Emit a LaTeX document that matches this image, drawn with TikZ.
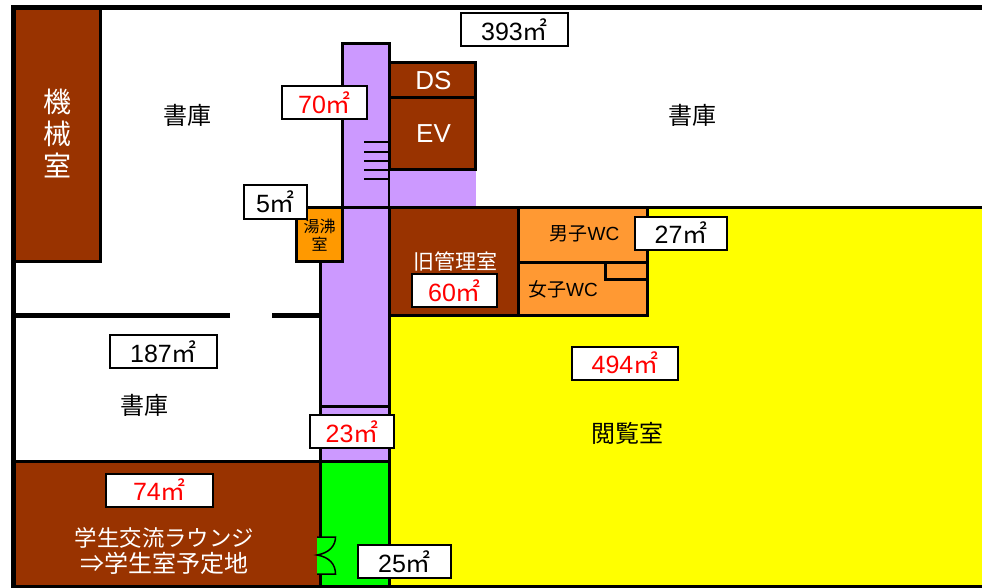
\documentclass[tikz,border=0pt]{standalone}
\usepackage{fontspec}
\setmainfont{Liberation Sans}
\newfontfamily\cjk{Noto Sans CJK JP}
\usepackage{xcolor}
\usetikzlibrary{
    positioning,
}
\definecolor{roombrown}{HTML}{993300}
\definecolor{roomorange}{HTML}{FF9900}
\definecolor{wcorange}{HTML}{FF9933}
\definecolor{hallpurple}{HTML}{CC99FF}
\definecolor{readyellow}{HTML}{FFFF00}
\definecolor{entrygreen}{HTML}{00FF00}
\newcommand{\sqm}{{\cjk ㎡}}
\newcommand{\fsize}[1]{\fontsize{#1}{#1}\selectfont}

\begin{document}
\begin{tikzpicture}[
        x=1pt, y=-1pt,
        wall/.style={draw=black, line width=3pt},
        outer/.style={draw=black, line width=5pt},
        areabox/.style={
            rectangle, draw=black, line width=2pt, fill=white,
            minimum width=#1, minimum height=33pt, inner sep=0pt,
            font=\fsize{25}, text=black
        },
        redbox/.style={areabox=#1, text=red},
        roomlabel/.style={font=\cjk\fsize{24}, text=black, inner sep=0pt, align=center},
        whitelabel/.style={roomlabel, text=white},
    ]
    \useasboundingbox (0,0) rectangle (982,588);

    % ── Floors ──
    \fill[white] (0,0) rectangle (982,588);
    \fill[readyellow] (389.5,207.5) rectangle (982,586);
    \filldraw[fill=hallpurple, wall] (342.5,44) rectangle (389.5,207.5);
    \fill[hallpurple] (389.5,170) rectangle (476,207.5);
    \fill[hallpurple] (320.7,207.5) rectangle (389.5,461.5);
    \fill[entrygreen] (320.7,461.5) rectangle (389.5,586);

    % ── Rooms ──
    \filldraw[fill=roombrown, wall] (13,7) rectangle (100.7,261.5);
    \filldraw[fill=roombrown, wall] (389.5,63) rectangle (475,98);
    \filldraw[fill=roombrown, wall] (389.5,98) rectangle (475,170);
    \filldraw[fill=roomorange, wall] (296.3,207.5) rectangle (342.5,261.5);
    \filldraw[fill=roombrown, wall] (389.5,207.5) rectangle (518.5,315.5);
    \filldraw[fill=wcorange, wall] (518.5,207.5) rectangle (647,262);
    \filldraw[fill=wcorange, wall] (518.5,262) rectangle (647,315.5);
    \filldraw[fill=wcorange, wall] (605,262) rectangle (647,279.5);
    \filldraw[fill=roombrown, wall] (13,461.5) rectangle (320.7,586);

    % ── Walls ──
    \draw[wall] (296.3,207.5) -- (982,207.5);
    \draw[wall] (320.7,261.5) -- (320.7,586);
    \draw[wall] (320.7,406.5) -- (389.5,406.5);
    \draw[wall] (320.7,461.5) -- (389.5,461.5);
    \draw[wall] (389.5,207.5) -- (389.5,586);
    \draw[outer] (230,315.5) -- (13,315.5);
    \draw[outer] (272,315.5) -- (320.7,315.5);
    \draw[outer] (13,588) -- (13,7.5) -- (982,7.5);
    \draw[wall] (13,586.5) -- (982,586.5);

    % ── Stairs ──
    \foreach \y in {142,152,161,170,179}{
        \draw[draw=black, line width=1.8pt] (364,\y) -- (389.5,\y);
    }

    % ── Door ──
    \fill[entrygreen] (317,537) rectangle (335,574);
    \draw[draw=black, line width=1.5pt] (317,537) -- (335.5,537) .. controls (335.5,546) and (329,553) .. (317,555)
        .. controls (329,557) and (335.5,564) .. (335.5,574) -- (317,574);

    % ── Room names ──
    \node[whitelabel, font=\cjk\fsize{28}] (kikai) at (57,133) {機\\[4pt]械\\[4pt]室};
    \node[roomlabel] (shoko1) at (187.5,115) {書庫};
    \node[roomlabel] (shoko2) at (692,115) {書庫};
    \node[roomlabel] (shoko3) at (144,405) {書庫};
    \node[roomlabel] (etsuran) at (627.5,433) {閲覧室};
    \node[whitelabel, font=\fsize{26}] (ds) at (433.5,81) {DS};
    \node[whitelabel, font=\fsize{26}] (ev) at (433.5,134) {EV};
    \node[roomlabel, font=\cjk\fsize{16}] (yuwakashi) at (319.5,235) {湯沸\\[2pt]室};
    \node[whitelabel, font=\cjk\fsize{21}] (kanri) at (455.5,261) {旧管理室};
    \node[roomlabel, font=\cjk\fsize{19}] (danshi) at (584.5,234) {男子{\fontspec{Liberation Sans}WC}};
    \node[roomlabel, font=\cjk\fsize{19}] (joshi) at (563,289) {女子{\fontspec{Liberation Sans}WC}};
    \node[whitelabel, font=\cjk\fsize{22.4}] (lounge) at (164.5,551) {学生交流ラウンジ\\[4pt]{\fsize{24}⇒学生室予定地}};

    % ── Area labels ──
    \node[areabox=107pt] (area393) at (514.5,29.5) {393\sqm};
    \node[redbox=85pt] (area70) at (324.5,103) {70\sqm};
    \node[areabox=63pt] (area5) at (275.5,202) {5\sqm};
    \node[areabox=92pt] (area27) at (681,233) {27\sqm};
    \node[redbox=85pt] (area60) at (454.5,290.5) {60\sqm};
    \node[redbox=106pt] (area494) at (625,363) {494\sqm};
    \node[areabox=107pt] (area187) at (163.5,351.5) {187\sqm};
    \node[redbox=84pt] (area23) at (352,431.5) {23\sqm};
    \node[redbox=107pt] (area74) at (159.5,490) {74\sqm};
    \node[areabox=93pt] (area25) at (404.5,561.5) {25\sqm};

\end{tikzpicture}
\end{document}
